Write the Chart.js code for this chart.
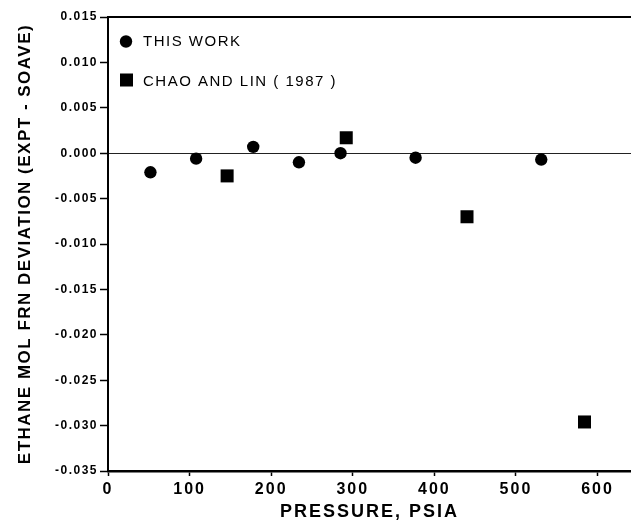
<!DOCTYPE html>
<html><head><meta charset="utf-8">
<script src="https://cdn.jsdelivr.net/npm/chart.js@4/dist/chart.umd.min.js"></script>
<style>html,body{margin:0;padding:0;background:#fff;}#wrap{width:631px;height:523px;}</style>
</head><body><div id="wrap"><canvas id="c" width="631" height="523"></canvas></div>
<script>
// ---- data ----
const thisWorkPressure = [52, 108, 178, 234, 285, 377, 531];
const thisWorkDeviation = [-0.0021, -0.0006, 0.0007, -0.0010, 0.0000, -0.0005, -0.0007];
const chaoLinPressure = [146, 292, 440, 584];
const chaoLinDeviation = [-0.0025, 0.0017, -0.0070, -0.0296];
const seriesNames = ['THIS WORK', 'CHAO AND LIN ( 1987 )'];
const xTickValues = [0, 100, 200, 300, 400, 500, 600];
const yTickValues = [0.015, 0.010, 0.005, 0.000, -0.005, -0.010, -0.015, -0.020, -0.025, -0.030, -0.035];
const xTitle = 'PRESSURE, PSIA';
const yTitle = 'ETHANE MOL FRN DEVIATION (EXPT - SOAVE)';

const spacing = { x: '2px', y: '1.5px' };
class SpacedLinear extends Chart.LinearScale {
  draw(area) {
    const c = this.ctx;
    c.save();
    c.letterSpacing = spacing[this.id] || '0px';
    super.draw(area);
    c.restore();
  }
}
SpacedLinear.id = 'spacedLinear';
SpacedLinear.defaults = {};
Chart.register(SpacedLinear);

const FONT = '"Liberation Sans", Arial, Helvetica, sans-serif';

const framePlugin = {
  id: 'frame',
  afterDatasetsDraw(chart) {
    const { ctx, chartArea: a } = chart;
    ctx.save();
    ctx.strokeStyle = '#000';
    ctx.lineWidth = 2;
    ctx.beginPath();
    ctx.moveTo(a.left - 1, a.top);
    ctx.lineTo(a.right, a.top);
    ctx.stroke();
    // legend inside plot
    ctx.fillStyle = '#000';
    ctx.beginPath();
    ctx.arc(a.left + 18, 41.5, 6.2, 0, Math.PI * 2);
    ctx.fill();
    ctx.fillRect(a.left + 12, 73.5, 13, 13);
    ctx.font = '15px ' + FONT;
    ctx.letterSpacing = '1.5px';
    ctx.textBaseline = 'middle';
    ctx.textAlign = 'left';
    ctx.fillText(seriesNames[0], a.left + 35, 42);
    ctx.fillText(seriesNames[1], a.left + 35, 81.5);
    ctx.restore();
  }
};

new Chart(document.getElementById('c'), {
  type: 'scatter',
  data: {
    datasets: [
      {
        label: seriesNames[0],
        data: thisWorkPressure.map((p, i) => ({ x: p, y: thisWorkDeviation[i] })),
        pointStyle: 'circle',
        pointRadius: 6.2,
        pointBorderWidth: 0,
        backgroundColor: '#000',
        borderColor: '#000'
      },
      {
        label: seriesNames[1],
        data: chaoLinPressure.map((p, i) => ({ x: p, y: chaoLinDeviation[i] })),
        pointStyle: 'rect',
        pointRadius: 9.2,
        pointBorderWidth: 0,
        backgroundColor: '#000',
        borderColor: '#000'
      }
    ]
  },
  options: {
    responsive: false,
    animation: false,
    devicePixelRatio: 1,
    events: [],
    layout: { autoPadding: false, padding: { top: 17, right: 0, left: 0, bottom: 0 } },
    plugins: { legend: { display: false }, tooltip: { enabled: false } },
    scales: {
      x: {
        type: 'spacedLinear',
        position: 'bottom',
        min: 0,
        max: 641,
        afterBuildTicks: s => { s.ticks = xTickValues.map(v => ({ value: v })); },
        afterFit: s => { s.height = 52; s.paddingLeft = 0; s.paddingRight = 0; },
        grid: { color: 'rgba(0,0,0,0)', drawTicks: true, tickLength: 5, tickColor: '#000', tickWidth: 1.5 },
        border: { display: true, color: '#000', width: 2.5 },
        ticks: { color: '#000', font: { family: FONT, size: 16, weight: 'bold' }, padding: 4, maxRotation: 0, autoSkip: false,
                 callback: v => String(v) },
        title: { display: true, text: xTitle, color: '#000', font: { family: FONT, size: 18, weight: 'bold' }, padding: { top: 0, bottom: 0 } }
      },
      y: {
        type: 'spacedLinear',
        position: 'left',
        min: -0.035,
        max: 0.015,
        afterBuildTicks: s => { s.ticks = yTickValues.map(v => ({ value: v })); },
        afterFit: s => { s.width = 108; s.paddingTop = 0; s.paddingBottom = 0; },
        grid: {
          color: c => (c.tick && Math.abs(c.tick.value) < 1e-9) ? '#222' : 'rgba(0,0,0,0)',
          lineWidth: 1,
          drawTicks: true, tickLength: 8, tickColor: '#000', tickWidth: 1.5
        },
        border: { display: true, color: '#000', width: 2 },
        ticks: { color: '#000', font: { family: FONT, size: 12, weight: 'bold' }, padding: 2, autoSkip: false,
                 callback: v => (Math.abs(v) < 1e-9 ? 0 : v).toFixed(3) },
        title: { display: true, text: yTitle, color: '#000', font: { family: FONT, size: 17, weight: 'bold' }, padding: { top: 15, bottom: 0 } }
      }
    }
  },
  plugins: [framePlugin]
});
</script>
</body></html>
